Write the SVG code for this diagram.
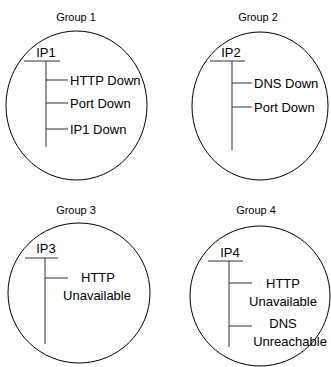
<svg xmlns="http://www.w3.org/2000/svg" width="331" height="367" viewBox="0 0 331 367">
  <style>
    .ring { fill: #fff; stroke: #000; stroke-width: 1; }
    .tree { stroke: #333; stroke-width: 1; fill: none; }
    .title { font-family: "Liberation Sans", Arial, sans-serif; font-size: 11px; fill: #000; text-anchor: middle; }
    .lbl { font-family: "Liberation Sans", Arial, sans-serif; font-size: 13px; fill: #000; }
    .mid { text-anchor: middle; }
  </style>
  <rect width="331" height="367" fill="#fff"/>

  <!-- group 1 -->
  <g id="group1">
    <text class="title" x="76" y="21">Group 1</text>
    <ellipse class="ring" cx="76.5" cy="105.5" rx="70.5" ry="74.5"/>
  </g>
  <g id="ip1">
    <text class="lbl mid" x="46" y="57">IP1</text>
  </g>
  <g id="ip1-http"><text class="lbl" x="70" y="84.5">HTTP Down</text></g>
  <g id="ip1-port"><text class="lbl" x="70" y="107.5">Port Down</text></g>
  <g id="ip1-down"><text class="lbl" x="70" y="133.5">IP1 Down</text></g>

  <!-- group 2 -->
  <g id="group2">
    <text class="title" x="258" y="21">Group 2</text>
    <ellipse class="ring" cx="260" cy="106" rx="68" ry="74"/>
  </g>
  <g id="ip2">
    <text class="lbl mid" x="231" y="57">IP2</text>
  </g>
  <g id="ip2-dns"><text class="lbl" x="254" y="87.5">DNS Down</text></g>
  <g id="ip2-port"><text class="lbl" x="254" y="111.5">Port Down</text></g>

  <!-- group 3 -->
  <g id="group3">
    <text class="title" x="76" y="214">Group 3</text>
    <ellipse class="ring" cx="79" cy="293" rx="71" ry="70"/>
  </g>
  <g id="ip3">
    <text class="lbl mid" x="46" y="253">IP3</text>
  </g>
  <g id="ip3-http">
    <text class="lbl mid" x="98" y="282">HTTP</text>
    <text class="lbl mid" x="97" y="300">Unavailable</text>
  </g>

  <!-- group 4 -->
  <g id="group4">
    <text class="title" x="256" y="214">Group 4</text>
    <ellipse class="ring" cx="260" cy="296" rx="70" ry="70"/>
  </g>
  <g id="ip4">
    <text class="lbl mid" x="230" y="257">IP4</text>
  </g>
  <g id="ip4-http">
    <text class="lbl mid" x="283" y="288">HTTP</text>
    <text class="lbl mid" x="283" y="306">Unavailable</text>
  </g>
  <g id="ip4-dns">
    <text class="lbl mid" x="283" y="328">DNS</text>
    <text class="lbl mid" x="290" y="346">Unreachable</text>
  </g>

  <!-- connectors: underline, trunk and branches of each tree -->
  <g id="connectors" class="tree">
    <path d="M24 61H60M46 61V147M46 80H68M46 103H68M46 129H68"/>
    <path d="M210 61H245M232 61V150M232 83H252M232 107H252"/>
    <path d="M25 258H58M45 258V344M45 278H68"/>
    <path d="M208 261H243M229 261V347M229 283H252M229 326H252"/>
  </g>
</svg>
